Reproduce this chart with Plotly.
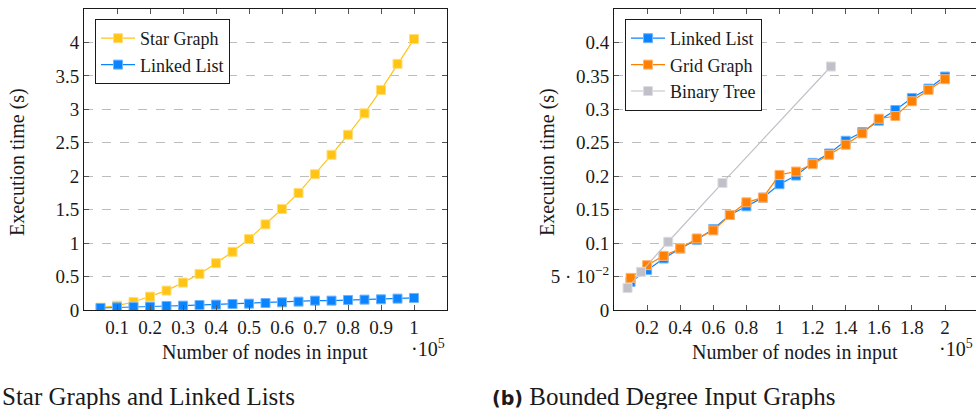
import plotly.graph_objects as go

# ---- data (node counts in units of 10^5, times in seconds) ----
star_x = [0.05, 0.10, 0.15, 0.20, 0.25, 0.30, 0.35, 0.40, 0.45, 0.50,
          0.55, 0.60, 0.65, 0.70, 0.75, 0.80, 0.85, 0.90, 0.95, 1.00]
star_y = [0.035, 0.065, 0.12, 0.20, 0.29, 0.41, 0.54, 0.70, 0.87, 1.06,
          1.28, 1.51, 1.75, 2.03, 2.32, 2.62, 2.94, 3.29, 3.68, 4.05]
list_small_x = star_x
list_small_y = [0.03, 0.04, 0.045, 0.05, 0.06, 0.065, 0.075, 0.08, 0.09, 0.095,
                0.105, 0.115, 0.125, 0.14, 0.14, 0.15, 0.155, 0.16, 0.17, 0.18]

bounded_x = [0.1, 0.2, 0.3, 0.4, 0.5, 0.6, 0.7, 0.8, 0.9, 1.0,
             1.1, 1.2, 1.3, 1.4, 1.5, 1.6, 1.7, 1.8, 1.9, 2.0]
list_y = [0.042, 0.060, 0.077, 0.092, 0.105, 0.121, 0.142, 0.155, 0.168, 0.188,
          0.201, 0.220, 0.234, 0.253, 0.266, 0.283, 0.299, 0.317, 0.331, 0.349]
grid_y = [0.048, 0.067, 0.081, 0.092, 0.107, 0.119, 0.142, 0.161, 0.168, 0.202,
          0.207, 0.218, 0.232, 0.247, 0.264, 0.286, 0.290, 0.312, 0.329, 0.345]
tree_x = [0.08191, 0.16383, 0.32767, 0.65535, 1.31071]
tree_y = [0.033, 0.057, 0.102, 0.190, 0.364]

left_xticks = [0.1, 0.2, 0.3, 0.4, 0.5, 0.6, 0.7, 0.8, 0.9, 1.0]
left_xlabels = ["0.1", "0.2", "0.3", "0.4", "0.5", "0.6", "0.7", "0.8", "0.9", "1"]
left_yticks = [0, 0.5, 1, 1.5, 2, 2.5, 3, 3.5, 4]
left_ylabels = ["0", "0.5", "1", "1.5", "2", "2.5", "3", "3.5", "4"]
right_xticks = [0.2, 0.4, 0.6, 0.8, 1.0, 1.2, 1.4, 1.6, 1.8, 2.0]
right_xlabels = ["0.2", "0.4", "0.6", "0.8", "1", "1.2", "1.4", "1.6", "1.8", "2"]
right_yticks = [0, 0.05, 0.1, 0.15, 0.2, 0.25, 0.3, 0.35, 0.4]
right_ylabels = ["0", "5 · 10<sup>−2</sup>", "0.1", "0.15", "0.2", "0.25", "0.3", "0.35", "0.4"]

# ---- styling ----
FONT = "Liberation Serif, Times New Roman, Times, serif"
YELLOW = "rgb(255,196,20)"
YELLOW_EDGE = "rgb(255,222,120)"
BLUE = "rgb(10,132,255)"
BLUE_EDGE = "rgb(110,180,255)"
ORANGE = "rgb(255,128,0)"
ORANGE_EDGE = "rgb(255,180,110)"
GRAY = "rgb(192,192,200)"
GRAY_EDGE = "rgb(220,220,226)"
INK = "#1a1a1a"

W, H = 976, 409


def px_x(p):
    return p / W


def px_y(p):
    return 1 - p / H


def series(x, y, name, color, edge, xa, ya, legend):
    return go.Scatter(
        x=x, y=y, name=name, mode="lines+markers",
        line=dict(color=color, width=1.2),
        marker=dict(symbol="square", size=9, color=color,
                    line=dict(color=edge, width=1)),
        xaxis=xa, yaxis=ya, legend=legend,
    )


fig = go.Figure()
fig.add_trace(series(star_x, star_y, "Star Graph", YELLOW, YELLOW_EDGE, "x", "y", "legend"))
fig.add_trace(series(list_small_x, list_small_y, "Linked List", BLUE, BLUE_EDGE, "x", "y", "legend"))
fig.add_trace(series(bounded_x, list_y, "Linked List", BLUE, BLUE_EDGE, "x2", "y2", "legend2"))
fig.add_trace(series(bounded_x, grid_y, "Grid Graph", ORANGE, ORANGE_EDGE, "x2", "y2", "legend2"))
fig.add_trace(series(tree_x, tree_y, "Binary Tree", GRAY, GRAY_EDGE, "x2", "y2", "legend2"))

axis_common = dict(
    showline=True, linecolor=INK, linewidth=1, mirror="ticks",
    ticks="inside", ticklen=5, tickcolor="#555", tickwidth=1,
    tickfont=dict(family=FONT, size=19, color=INK),
    zeroline=False, automargin=False,
)
grid_style = dict(showgrid=True, gridcolor="#bdbdbd", griddash="dash", gridwidth=1)
legend_style = dict(xanchor="left", yanchor="top",
                    bordercolor=INK, borderwidth=1, bgcolor="white",
                    font=dict(family=FONT, size=18, color=INK), itemwidth=34,
                    tracegroupgap=0)

y_dom = [px_y(310), px_y(9)]
fig.update_layout(
    width=W, height=H, margin=dict(l=0, r=0, t=0, b=0, autoexpand=False),
    paper_bgcolor="white", plot_bgcolor="white",
    font=dict(family=FONT, color=INK),
    xaxis=dict(domain=[px_x(84), px_x(447)], range=[0, 1.1],
               tickvals=left_xticks, ticktext=left_xlabels,
               showgrid=False, anchor="y", **axis_common),
    yaxis=dict(domain=y_dom, range=[0, 4.5],
               tickvals=left_yticks, ticktext=left_ylabels,
               anchor="x", **grid_style, **axis_common),
    xaxis2=dict(domain=[px_x(614), 1.0], range=[0, (976 - 614) / 165.5],
                tickvals=right_xticks, ticktext=right_xlabels,
                showgrid=False, anchor="y2", **axis_common),
    yaxis2=dict(domain=y_dom, range=[0, 0.45],
                tickvals=right_yticks, ticktext=right_ylabels,
                anchor="x2", **grid_style, **axis_common),
    legend=dict(x=px_x(95), y=px_y(19), **legend_style),
    legend2=dict(x=px_x(625), y=px_y(19), **legend_style),
    showlegend=True,
)

# x-axis titles and the 10^5 scale markers
for xc in (265, 795):
    fig.add_annotation(xref="paper", yref="paper", showarrow=False,
                       x=px_x(xc), y=px_y(352), xanchor="center", yanchor="middle",
                       text="Number of nodes in input",
                       font=dict(family=FONT, size=20, color=INK))
for xr in (447, 975):
    fig.add_annotation(xref="paper", yref="paper", showarrow=False,
                       x=px_x(xr), y=px_y(348), xanchor="right", yanchor="middle",
                       text="·10<sup>5</sup>", xshift=0,
                       font=dict(family=FONT, size=20, color=INK))

for xc in (18, 548):
    fig.add_annotation(xref="paper", yref="paper", showarrow=False,
                       x=px_x(xc), y=px_y(162), xanchor="center", yanchor="middle",
                       textangle=-90, text="Execution time (s)",
                       font=dict(family=FONT, size=20, color=INK))

fig.add_annotation(xref="paper", yref="paper", showarrow=False,
                   x=0, y=px_y(396), xanchor="left", yanchor="middle",
                   text="Star Graphs and Linked Lists",
                   font=dict(family=FONT, size=25, color=INK))
fig.add_annotation(xref="paper", yref="paper", showarrow=False,
                   x=px_x(490), y=px_y(396), xanchor="left", yanchor="middle",
                   text="<span style=\"font-family:DejaVu Sans;font-size:19px\"><b>(b)</b></span> Bounded Degree Input Graphs",
                   font=dict(family=FONT, size=25, color=INK))

fig.write_html("out.html")
